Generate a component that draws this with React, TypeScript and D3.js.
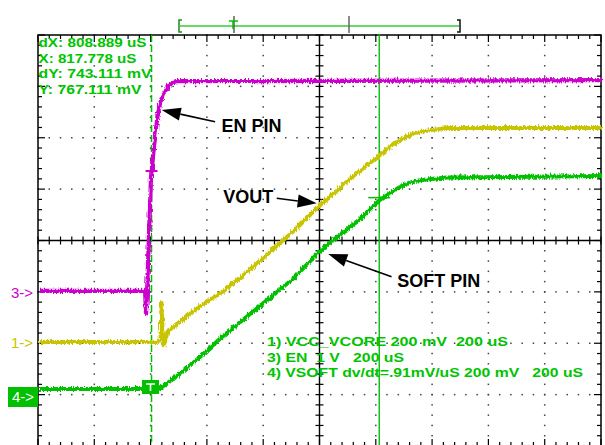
import React from "react";
import * as d3 from "d3";

// ---- data (time in µs, value in volts) ----
const EN_TIME = [-1000, -623, -620, -616, -610, -602, -591, -579, -570, -559, -538, -510, 1000];
const EN_VOLTS = [0.04, 0.04, -0.41, 0.04, 1.01, 2.27, 2.86, 3.44, 3.69, 3.87, 4.04, 4.12, 4.14];

const VOUT_TIME = [-1000, -577, -568, -565, -561, -556, -543, -495, -449, -401, -353, -265, -176, -87, -9, 37, 108, 162, 215, 275, 332, 393, 453, 1000];
const VOUT_VOLTS = [0.009, 0.009, 0.017, 0.161, 0.052, -0.003, 0.052, 0.091, 0.13, 0.169, 0.2, 0.277, 0.363, 0.449, 0.534, 0.577, 0.647, 0.694, 0.74, 0.791, 0.822, 0.834, 0.842, 0.842];

const SOFT_TIME = [-1000, -581, -567, -495, -424, -353, -272, -176, -94, -9, 62, 133, 179, 215, 275, 332, 393, 453, 1000];
const SOFT_VOLTS = [0.026, 0.026, 0.03, 0.088, 0.154, 0.225, 0.298, 0.384, 0.458, 0.555, 0.621, 0.68, 0.73, 0.765, 0.808, 0.835, 0.843, 0.849, 0.855];

// channel settings: volts/div and ground offset (div)
const CH_NAMES = ["1", "3", "4"];
const CH_SCALE = [0.2, 1, 0.2];
const CH_OFFSET = [-2, -1, -3];

const CURSOR_TIMES = [-596.7, 212.2];
const CURSOR1_LEVEL_DIV = 1.353;

const READOUT = ["dX: 808.889 uS", "X: 817.778 uS", "dY: 743.111 mV", "Y: 767.111 mV"];
const READOUT_W = [108, 98, 113, 103];
const SETTINGS = ["1) VCC_VCORE 200 mV  200 uS", "3) EN  1 V   200 uS", "4) VSOFT dv/dt=.91mV/uS 200 mV   200 uS"];
const SETTINGS_W = [241, 137, 316];

const COLORS = { ch1: "#c8c400", ch3: "#cc00cc", ch4: "#00c000", text: "#00c400" };

const W = 605;
const H = 445;

export default function App() {
  const x = d3.scaleLinear().domain([-1000, 1000]).range([38, 601]);
  const y = d3.scaleLinear().domain([-4, 4]).range([446, 35]);
  const chY = (ci: number) => (v: number) => y(CH_OFFSET[ci] + v / CH_SCALE[ci]);

  const mkLine = (ci: number, ts: number[], vs: number[]) => {
    const fy = chY(ci);
    return d3
      .line<number>()
      .x((_, i) => x(ts[i]))
      .y((v) => fy(v))(vs) as string;
  };

  const majorX = d3.range(-1000, 1001, 200);
  const majorY = d3.range(-4, 4.01, 1);
  const minorX = d3.range(-1000, 1000.1, 40);
  const minorY = d3.range(-4, 4.001, 0.2);

  const dots: JSX.Element[] = [];
  majorX.forEach((mx) => {
    if (mx === 0 || Math.abs(mx) === 1000) return;
    minorY.forEach((my, j) => {
      dots.push(<rect key={`v${mx}_${j}`} x={x(mx) - 0.75} y={y(my) - 0.75} width={1.5} height={1.5} fill="#444" />);
    });
  });
  majorY.forEach((my) => {
    if (my === 0 || Math.abs(my) === 4) return;
    minorX.forEach((mx, j) => {
      dots.push(<rect key={`h${my}_${j}`} x={x(mx) - 0.75} y={y(my) - 0.75} width={1.5} height={1.5} fill="#444" />);
    });
  });

  const ticks: JSX.Element[] = [];
  minorX.forEach((mx, j) => {
    const isMajor = j % 5 === 0;
    const len = isMajor ? 7 : 4;
    ticks.push(<line key={`tt${j}`} x1={x(mx)} x2={x(mx)} y1={y(4)} y2={y(4) + len} stroke="#000" strokeWidth={1.2} />);
    ticks.push(<line key={`tb${j}`} x1={x(mx)} x2={x(mx)} y1={y(-4)} y2={y(-4) - len} stroke="#000" strokeWidth={1.2} />);
    ticks.push(<line key={`tc${j}`} x1={x(mx)} x2={x(mx)} y1={y(0) - 4} y2={y(0) + 4} stroke="#000" strokeWidth={1.2} />);
  });
  minorY.forEach((my, j) => {
    const isMajor = j % 5 === 0;
    const len = isMajor ? 7 : 4;
    ticks.push(<line key={`tl${j}`} x1={x(-1000)} x2={x(-1000) + len} y1={y(my)} y2={y(my)} stroke="#000" strokeWidth={1.2} />);
    ticks.push(<line key={`tr${j}`} x1={x(1000)} x2={x(1000) - len} y1={y(my)} y2={y(my)} stroke="#000" strokeWidth={1.2} />);
    ticks.push(<line key={`tm${j}`} x1={x(0) - 4} x2={x(0) + 4} y1={y(my)} y2={y(my)} stroke="#000" strokeWidth={1.2} />);
  });

  const arrow = (t0: number, d0: number, t1: number, d1: number, key: string) => {
    const x0 = x(t0), y0 = y(d0), x1 = x(t1), y1 = y(d1);
    const ang = Math.atan2(y1 - y0, x1 - x0);
    const L = 19, hw = 6.5;
    const bx = x1 - L * Math.cos(ang), by = y1 - L * Math.sin(ang);
    const px = -Math.sin(ang) * hw, py = Math.cos(ang) * hw;
    return (
      <g key={key}>
        <line x1={x0} y1={y0} x2={bx} y2={by} stroke="#000" strokeWidth={1.6} />
        <polygon points={`${x1},${y1} ${bx + px},${by + py} ${bx - px},${by - py}`} fill="#000" />
      </g>
    );
  };

  const c1x = x(CURSOR_TIMES[0]);
  const c2x = x(CURSOR_TIMES[1]);
  const softAtC2 = chY(2)(0.767);

  return (
    <svg width={W} height={H} style={{ position: "absolute", left: 0, top: 0, background: "#fff" }} fontFamily="'Liberation Sans', Arial, sans-serif">
      <defs>
        <filter id="scopeNoise" x="-5%" y="-20%" width="110%" height="140%">
          <feTurbulence type="turbulence" baseFrequency="0.7 0.1" numOctaves={2} seed={4} result="turb" />
          <feDisplacementMap in="SourceGraphic" in2="turb" scale={4} xChannelSelector="R" yChannelSelector="G" />
        </filter>
      </defs>
      <rect x={0} y={0} width={W} height={H} fill="#fff" />
      {/* top memory bar */}
      <g>
        <line x1={180} x2={459} y1={26} y2={26} stroke="#33cc33" strokeWidth={1.6} />
        <path d="M182,20 L179,20 L179,32 L182,32" fill="none" stroke="#228822" strokeWidth={1.5} />
        <path d="M457,20 L460,20 L460,32 L457,32" fill="none" stroke="#111" strokeWidth={1.5} />
        <line x1={234} x2={234} y1={16} y2={33} stroke="#444" strokeWidth={1.3} />
        <path d="M229,21 L238,21 M233,21 L233,29" stroke={COLORS.ch4} strokeWidth={1.5} fill="none" />
        <line x1={349} x2={349} y1={16} y2={33} stroke="#666" strokeWidth={1.5} />
      </g>
      {dots}
      <line x1={x(-1000)} x2={x(1000)} y1={y(0)} y2={y(0)} stroke="#000" strokeWidth={1.4} />
      <line x1={x(0)} x2={x(0)} y1={y(4)} y2={y(-4)} stroke="#000" strokeWidth={1.4} />
      {ticks}
      <rect x={x(-1000)} y={y(4)} width={x(1000) - x(-1000)} height={y(-4) - y(4)} fill="none" stroke="#000" strokeWidth={1.5} />

      {/* settings text */}
      {SETTINGS.map((s, i) => (
        <text key={s} x={267} y={346 + i * 15.5} fontSize={13} fontWeight="bold" fill={COLORS.text} textLength={SETTINGS_W[i]} lengthAdjust="spacingAndGlyphs" style={{ whiteSpace: "pre" }}>
          {s}
        </text>
      ))}

      {/* cursors */}
      <line x1={c1x} x2={c1x} y1={y(4)} y2={H} stroke={COLORS.ch4} strokeWidth={1.5} strokeDasharray="7,3" />
      <line x1={c2x} x2={c2x} y1={y(4) - 1} y2={H} stroke={COLORS.ch4} strokeWidth={1.4} />

      {/* traces */}
      <g filter="url(#scopeNoise)">
        <path d={mkLine(0, VOUT_TIME, VOUT_VOLTS)} fill="none" stroke={COLORS.ch1} strokeWidth={4} strokeLinejoin="round" />
        <path d={mkLine(2, SOFT_TIME, SOFT_VOLTS)} fill="none" stroke={COLORS.ch4} strokeWidth={4} strokeLinejoin="round" />
        <path d={mkLine(1, EN_TIME, EN_VOLTS)} fill="none" stroke={COLORS.ch3} strokeWidth={4.2} strokeLinejoin="round" />
      </g>

      {/* cursor markers */}
      <line x1={c1x - 6} x2={c1x + 6} y1={y(CURSOR1_LEVEL_DIV)} y2={y(CURSOR1_LEVEL_DIV)} stroke={COLORS.ch3} strokeWidth={2} />
      <line x1={c2x - 11} x2={c2x + 11} y1={softAtC2} y2={softAtC2} stroke={COLORS.ch4} strokeWidth={1.5} />

      {/* trigger marker on ch4 */}
      <g>
        <rect x={142} y={380} width={17} height={14} fill={COLORS.ch4} />
        <path d="M146,384 L155,384 M150.5,384 L150.5,391" stroke="#fff" strokeWidth={1.6} fill="none" />
      </g>

      {/* channel ground markers */}
      <text x={11} y={298} fontSize={15} fill={COLORS.ch3}>3-&gt;</text>
      <text x={11} y={347.5} fontSize={15} fill={COLORS.ch1}>1-&gt;</text>
      <rect x={8} y={387} width={30} height={20} fill={COLORS.ch4} />
      <text x={12} y={402} fontSize={15} fill="#fff">4-&gt;</text>

      {/* readout */}
      {READOUT.map((s, i) => (
        <text key={s} x={38.5} y={47 + i * 15.7} fontSize={13} fontWeight="bold" fill={COLORS.text} textLength={READOUT_W[i]} lengthAdjust="spacingAndGlyphs">
          {s}
        </text>
      ))}

      {/* annotations */}
      {arrow(-371, 2.311, -560.5, 2.539, "a1")}
      {arrow(-152, 0.821, -10, 0.724, "a2")}
      {arrow(256, -0.705, 31, -0.263, "a3")}
      <text x={x(-348)} y={y(2.117)} fontSize={18} fontWeight="bold" fill="#000">EN PIN</text>
      <text x={x(-342)} y={y(0.724)} fontSize={18} fontWeight="bold" fill="#000">VOUT</text>
      <text x={x(276)} y={y(-0.899)} fontSize={18} fontWeight="bold" fill="#000">SOFT PIN</text>
    </svg>
  );
}
